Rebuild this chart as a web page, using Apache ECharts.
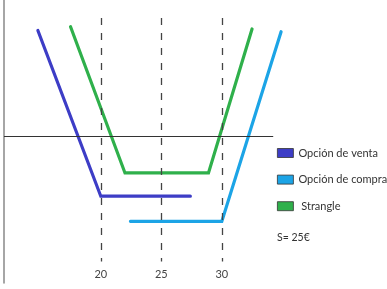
<!DOCTYPE html>
<html>
<head>
<meta charset="utf-8">
<script src="https://cdn.jsdelivr.net/npm/echarts@6/dist/echarts.min.js"></script>
<style>html,body{margin:0;padding:0;background:#fff}#c{width:387px;height:289px}</style>
</head>
<body>
<div id="c"></div>
<script>
// Data (x = price, y = payoff)
const seriesNames = ['Opción de venta', 'Opción de compra', 'Strangle'];
const putX = [14.8, 20, 27.4];
const putY = [3.37, -1.9, -1.9];
const callX = [22.45, 30, 34.9];
const callY = [-2.7, -2.7, 3.33];
const strangleX = [17.5, 22, 28.9, 32.5];
const strangleY = [3.49, -1.16, -1.16, 3.42];
const strikeTicks = [20, 25, 30];
const spotNote = 'S= 25€';

const colors = ['#3d3dc6', '#1ca4e6', '#2fb04b'];

function pairs(xs, ys) { return xs.map((x, i) => [x, ys[i]]); }

const chart = echarts.init(document.getElementById('c'), null, {renderer: 'canvas'});
const lineStyleBase = {width: 3.2, cap: 'round', join: 'miter'};
const FONT = 'Lato';

chart.setOption({
  animation: false,
  title: {
    text: spotNote, left: 277, top: 232, padding: 0,
    textStyle: {fontFamily: FONT, fontSize: 10.5, fontWeight: 'normal', color: '#333'}
  },
  legend: {
    orient: 'vertical', left: 277, top: 146, padding: 0,
    icon: 'rect', itemWidth: 16, itemHeight: 9, itemGap: 12.6,
    itemStyle: {borderColor: '#333', borderWidth: 0.8},
    textStyle: {fontFamily: FONT, fontSize: 11, color: '#333', lineHeight: 14},
    formatter: n => n === 'Strangle' ? ' ' + n : n,
    data: seriesNames
  },
  grid: {left: 4, top: 0, width: 290.4, height: 283, containLabel: false},
  xAxis: {
    type: 'value', min: 12, max: 36, interval: 1,
    axisLine: {show: false}, axisTick: {show: false}, splitLine: {show: false},
    axisLabel: {
      inside: true, margin: 3,
      fontFamily: FONT, fontSize: 11, color: '#444',
      formatter: v => strikeTicks.includes(v) ? String(v) : ''
    }
  },
  yAxis: {
    type: 'value', min: -4.66, max: 4.34,
    axisLine: {show: true, onZero: false, lineStyle: {color: '#888', width: 1.5}},
    axisTick: {show: false}, axisLabel: {show: false}, splitLine: {show: false}
  },
  series: [
    {
      name: seriesNames[0], type: 'line', data: pairs(putX, putY),
      color: colors[0], showSymbol: false, lineStyle: lineStyleBase, z: 3,
      markLine: {
        silent: true, symbol: 'none', label: {show: false},
        lineStyle: {color: '#444', type: [7, 8], width: 1.3},
        data: strikeTicks.map(t => [{coord: [t, 3.77]}, {coord: [t, -3.98]}])
      }
    },
    {
      name: seriesNames[1], type: 'line', data: pairs(callX, callY),
      color: colors[1], showSymbol: false, lineStyle: lineStyleBase, z: 3,
      markLine: {
        silent: true, symbol: 'none', label: {show: false},
        lineStyle: {color: '#333', type: 'solid', width: 1},
        data: [[{coord: [12, 0]}, {coord: [34.25, 0]}]]
      }
    },
    {
      name: seriesNames[2], type: 'line', data: pairs(strangleX, strangleY),
      color: colors[2], showSymbol: false, lineStyle: lineStyleBase, z: 3
    }
  ]
});
</script>
</body>
</html>
